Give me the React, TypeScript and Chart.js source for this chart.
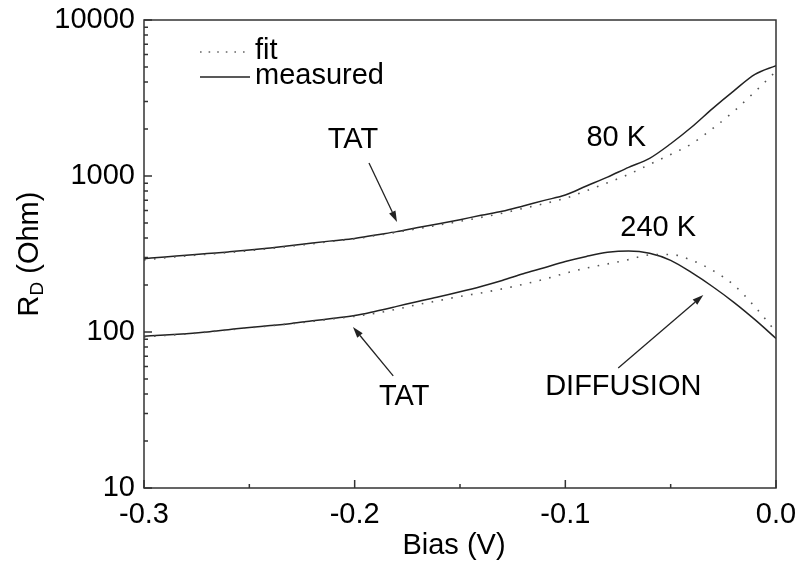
import React, { useEffect, useRef } from 'react';
import { Chart, registerables } from 'chart.js';

Chart.register(...registerables);

// ---- data ----
const bias = [
  -0.30, -0.29, -0.28, -0.27, -0.26, -0.25, -0.24, -0.23, -0.22, -0.21,
  -0.20, -0.19, -0.18, -0.17, -0.16, -0.15, -0.14, -0.13, -0.12, -0.11,
  -0.10, -0.09, -0.08, -0.07, -0.06, -0.05, -0.04, -0.03, -0.02, -0.01, 0.00,
];
const measured80K = [
  295, 303, 310, 318, 326, 335, 346, 358, 372, 385,
  398, 419, 440, 467, 494, 525, 560, 594, 643, 698,
  755, 863, 984, 1135, 1298, 1610, 2060, 2716, 3515, 4480, 5100,
];
const fit80K = [
  290, 299, 307, 315, 323, 332, 343, 355, 368, 382,
  396, 415, 436, 460, 485, 512, 543, 577, 620, 665,
  720, 805, 904, 1025, 1186, 1375, 1610, 2018, 2600, 3470, 4700,
];
const measured240K = [
  94, 95.5, 97.5, 100, 103.5, 107, 110, 113.5, 118, 122.5,
  127.5, 136, 146, 157, 168, 181, 196, 214, 236, 258,
  283, 305, 324, 331, 320, 288, 240, 195, 155, 120, 91,
];
const fit240K = [
  93, 95, 97, 100, 103, 106.5, 109.5, 113, 117, 121.5,
  126, 132, 140, 150, 159, 169, 178, 189, 202, 218,
  238, 257, 273, 291, 312, 314, 288, 248, 200, 145, 100,
];

const xTickValues = [-0.3, -0.2, -0.1, 0.0];
const xTickLabels = ['-0.3', '-0.2', '-0.1', '0.0'];
const xMinorTicks = [-0.25, -0.15, -0.05];
const yTickValues = [10, 100, 1000, 10000];
const yTickLabels = ['10', '100', '1000', '10000'];
const xTitle = 'Bias (V)';
const yTitleMain = 'R';
const yTitleSub = 'D';
const yTitleRest = ' (Ohm)';
const legendLabels = ['fit', 'measured'];

const annotations = [
  { text: 'TAT', x: -0.2008, y: 1702 },
  { text: '80 K', x: -0.0758, y: 1754 },
  { text: '240 K', x: -0.0559, y: 464 },
  { text: 'TAT', x: -0.1765, y: 38.3 },
  { text: 'DIFFUSION', x: -0.0725, y: 44.4 },
];
const arrows = [
  { x1: -0.1932, y1: 1211, x2: -0.1799, y2: 507 },
  { x1: -0.1817, y1: 52.3, x2: -0.2008, y2: 107.6 },
  { x1: -0.0749, y1: 58.7, x2: -0.0345, y2: 172.6 },
];

const FONT = "'Liberation Sans', Arial, Helvetica, sans-serif";
const FS = 29;

const decor = {
  id: 'decor',
  afterDraw(chart: any) {
    const { ctx, chartArea: a, scales } = chart;
    const xs = scales.x;
    const ys = scales.y;
    ctx.save();

    // frame
    ctx.strokeStyle = '#333';
    ctx.lineWidth = 1.5;
    ctx.strokeRect(a.left, a.top, a.right - a.left, a.bottom - a.top);

    // inward ticks
    ctx.beginPath();
    for (const v of xTickValues) {
      const px = xs.getPixelForValue(v);
      ctx.moveTo(px, a.bottom);
      ctx.lineTo(px, a.bottom - 8);
    }
    for (const v of xMinorTicks) {
      const px = xs.getPixelForValue(v);
      ctx.moveTo(px, a.bottom);
      ctx.lineTo(px, a.bottom - 4);
    }
    for (const d of yTickValues) {
      const py = ys.getPixelForValue(d);
      ctx.moveTo(a.left, py);
      ctx.lineTo(a.left + 8, py);
      if (d < 10000) {
        for (let m = 2; m <= 9; m++) {
          const pm = ys.getPixelForValue(d * m);
          ctx.moveTo(a.left, pm);
          ctx.lineTo(a.left + 4, pm);
        }
      }
    }
    ctx.stroke();

    // annotation texts
    ctx.fillStyle = '#000';
    ctx.font = `${FS}px ${FONT}`;
    ctx.textAlign = 'center';
    ctx.textBaseline = 'middle';
    for (const t of annotations) {
      ctx.fillText(t.text, xs.getPixelForValue(t.x), ys.getPixelForValue(t.y));
    }

    // arrows
    ctx.strokeStyle = '#222';
    ctx.fillStyle = '#222';
    ctx.lineWidth = 1.3;
    for (const ar of arrows) {
      const x1 = xs.getPixelForValue(ar.x1);
      const y1 = ys.getPixelForValue(ar.y1);
      const x2 = xs.getPixelForValue(ar.x2);
      const y2 = ys.getPixelForValue(ar.y2);
      const ang = Math.atan2(y2 - y1, x2 - x1);
      const hl = 11;
      const hw = 3.5;
      const bx = x2 - hl * Math.cos(ang);
      const by = y2 - hl * Math.sin(ang);
      ctx.beginPath();
      ctx.moveTo(x1, y1);
      ctx.lineTo(bx, by);
      ctx.stroke();
      ctx.beginPath();
      ctx.moveTo(x2, y2);
      ctx.lineTo(bx + hw * Math.sin(ang), by - hw * Math.cos(ang));
      ctx.lineTo(bx - hw * Math.sin(ang), by + hw * Math.cos(ang));
      ctx.closePath();
      ctx.fill();
    }

    // legend
    const lx0 = a.left + 56;
    const lx1 = a.left + 106;
    ctx.lineWidth = 1.6;
    ctx.strokeStyle = '#666';
    ctx.setLineDash([1.6, 7]);
    ctx.beginPath();
    ctx.moveTo(lx0, a.top + 32);
    ctx.lineTo(lx1, a.top + 32);
    ctx.stroke();
    ctx.setLineDash([]);
    ctx.strokeStyle = '#222';
    ctx.beginPath();
    ctx.moveTo(lx0, a.top + 57);
    ctx.lineTo(lx1, a.top + 57);
    ctx.stroke();
    ctx.fillStyle = '#000';
    ctx.textAlign = 'left';
    ctx.fillText(legendLabels[0], a.left + 111, a.top + 31);
    ctx.fillText(legendLabels[1], a.left + 111, a.top + 56);

    // x title
    ctx.textAlign = 'center';
    ctx.fillText(xTitle, (a.left + a.right) / 2 - 6, 546);

    // y title with subscript
    ctx.save();
    ctx.translate(28, (a.top + a.bottom) / 2);
    ctx.rotate(-Math.PI / 2);
    ctx.textAlign = 'left';
    ctx.textBaseline = 'alphabetic';
    ctx.font = `${FS}px ${FONT}`;
    const wR = ctx.measureText(yTitleMain).width;
    const wRest = ctx.measureText(yTitleRest).width;
    ctx.font = `19px ${FONT}`;
    const wD = ctx.measureText(yTitleSub).width;
    const total = wR + wD + wRest;
    let cx = -total / 2;
    const base = 10.4;
    ctx.font = `${FS}px ${FONT}`;
    ctx.fillText(yTitleMain, cx, base);
    cx += wR;
    ctx.font = `19px ${FONT}`;
    ctx.fillText(yTitleSub, cx, base + 5);
    cx += wD;
    ctx.font = `${FS}px ${FONT}`;
    ctx.fillText(yTitleRest, cx, base);
    ctx.restore();

    ctx.restore();
  },
};

export default function App() {
  const ref = useRef<HTMLCanvasElement>(null);
  useEffect(() => {
    document.body.style.margin = '0';
    const canvas = ref.current!;
    const toPts = (ys: number[]) => bias.map((x, i) => ({ x, y: ys[i] }));
    const fitStyle = {
      borderColor: '#555',
      borderWidth: 1.6,
      borderDash: [1.6, 8.4],
      pointRadius: 0,
      cubicInterpolationMode: 'monotone' as const,
      fill: false,
    };
    const measStyle = {
      borderColor: '#222',
      borderWidth: 1.5,
      pointRadius: 0,
      cubicInterpolationMode: 'monotone' as const,
      fill: false,
    };
    const chart = new Chart(canvas, {
      type: 'line',
      data: {
        datasets: [
          { label: 'fit 80 K', data: toPts(fit80K), ...fitStyle },
          { label: 'fit 240 K', data: toPts(fit240K), ...fitStyle },
          { label: 'measured 80 K', data: toPts(measured80K), ...measStyle },
          { label: 'measured 240 K', data: toPts(measured240K), ...measStyle },
        ],
      },
      options: {
        responsive: false,
        animation: false,
        layout: { padding: { left: 0, right: 26, top: 20, bottom: 0 } },
        plugins: { legend: { display: false }, tooltip: { enabled: false } },
        scales: {
          x: {
            type: 'linear',
            min: -0.3,
            max: 0,
            grid: { display: false, drawTicks: false },
            border: { display: false },
            ticks: {
              color: '#000',
              font: { family: FONT, size: FS },
              padding: 10,
              maxRotation: 0,
              autoSkip: false,
              callback: (v: any) => {
                const i = xTickValues.findIndex((t) => Math.abs(t - Number(v)) < 1e-9);
                return i >= 0 ? xTickLabels[i] : '';
              },
            },
            afterBuildTicks: (s: any) => {
              s.ticks = xTickValues.map((value) => ({ value }));
            },
            afterFit: (s: any) => {
              s.height = 75;
              s.paddingLeft = 0;
              s.paddingRight = 0;
            },
          },
          y: {
            type: 'logarithmic',
            min: 10,
            max: 10000,
            grid: { display: false, drawTicks: false },
            border: { display: false },
            ticks: {
              color: '#000',
              font: { family: FONT, size: FS },
              padding: 9,
              autoSkip: false,
              callback: (v: any) => {
                const i = yTickValues.findIndex((t) => Math.abs(t - Number(v)) < 1e-6);
                return i >= 0 ? yTickLabels[i] : '';
              },
            },
            afterBuildTicks: (s: any) => {
              s.ticks = yTickValues.map((value) => ({ value }));
            },
            afterFit: (s: any) => {
              s.width = 144;
              s.paddingTop = 0;
              s.paddingBottom = 0;
            },
          },
        },
      },
      plugins: [decor],
    });
    return () => chart.destroy();
  }, []);
  return <canvas ref={ref} width={802} height={563} style={{ display: 'block' }} />;
}
